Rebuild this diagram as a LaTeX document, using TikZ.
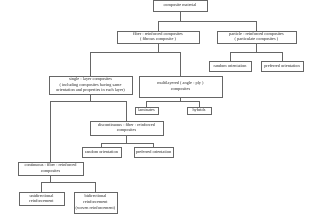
\documentclass[tikz,border=0pt]{standalone}
\usepackage{fontspec}
\setmainfont{Liberation Serif}
\begin{document}
\begin{tikzpicture}[x=1pt,y=-1pt,
  box/.style={draw=black!60, line width=0.65pt, rectangle, inner sep=0pt, align=center,
    font=\fontsize{4.3}{5.8}\selectfont, text=black!85},
  link/.style={draw=black!60, line width=0.65pt}]
\useasboundingbox (0,0) rectangle (320,219);
\fill[white] (0,0) rectangle (320,219);
% boxes: center, width, height
\node[box, minimum width=54pt, minimum height=11pt] (cm) at (180,5.5) {composite material};
\node[box, minimum width=82pt, minimum height=12pt] (frc) at (158,37) {fiber - reinforced composites\\( fibrous composite )};
\node[box, minimum width=79pt, minimum height=12pt] (prc) at (256.5,37) {particle - reinforced composites\\( particulate composites )};
\node[box, minimum width=42pt, minimum height=10pt] (ro1) at (230,66) {random orientation};
\node[box, minimum width=42pt, minimum height=10pt] (po1) at (282,66) {preferred orientation};
\node[box, minimum width=83pt, minimum height=18pt] (slc) at (90.5,85) {single - layer composites\\( including composites having same\\orientation and properties in each layer)};
\node[box, minimum width=83pt, minimum height=21pt] (mlc) at (180.5,86.5) {multilayered ( angle - ply )\\composites};
\node[box, minimum width=23pt, minimum height=7pt] (lam) at (146.5,110.5) {laminates};
\node[box, minimum width=24pt, minimum height=7pt] (hyb) at (199,110.5) {hybrids};
\node[box, minimum width=73pt, minimum height=14pt] (dfc) at (126.5,128) {discontinuous - fiber - reinforced\\composites};
\node[box, minimum width=39pt, minimum height=10pt] (ro2) at (101.5,152) {random orientation};
\node[box, minimum width=39pt, minimum height=10pt] (po2) at (153.5,152) {preferred orientation};
\node[box, minimum width=65pt, minimum height=13pt] (cfc) at (50.5,168.5) {continuous - fiber - reinforced\\composites};
\node[box, minimum width=45pt, minimum height=13pt] (uni) at (41.5,198.5) {unidirectional\\reinforcement};
\node[box, minimum width=43pt, minimum height=21pt] (bid) at (95.5,202.5) {bidirectional\\reinforcement\\(woven reinforcement)};
% junctions
\coordinate (j1) at (180,21);
\coordinate (j2) at (158,52);
\coordinate (j3) at (256.5,52);
\coordinate (j4) at (180.5,101);
\coordinate (j5) at (90.5,101);
\coordinate (j6) at (126.5,143);
\coordinate (j7) at (50.5,182);
% connectors
\draw[link] (cm.south) -- (j1) -| (frc.north);
\draw[link] (j1) -| (prc.north);
\draw[link] (frc.south) -- (j2) -| (slc.north);
\draw[link] (j2) -| (mlc.north);
\draw[link] (prc.south) -- (j3) -| (ro1.north);
\draw[link] (j3) -| (po1.north);
\draw[link] (mlc.south) -- (j4) -| (lam.north);
\draw[link] (j4) -| (hyb.north);
\draw[link] (slc.south) -- (j5) -| (cfc.north);
\draw[link] (j5) -| (dfc.north);
\draw[link] (dfc.south) -- (j6) -| (ro2.north);
\draw[link] (j6) -| (po2.north);
\draw[link] (cfc.south) -- (j7) -| (uni.north);
\draw[link] (j7) -| (bid.north);
\end{tikzpicture}
\end{document}
